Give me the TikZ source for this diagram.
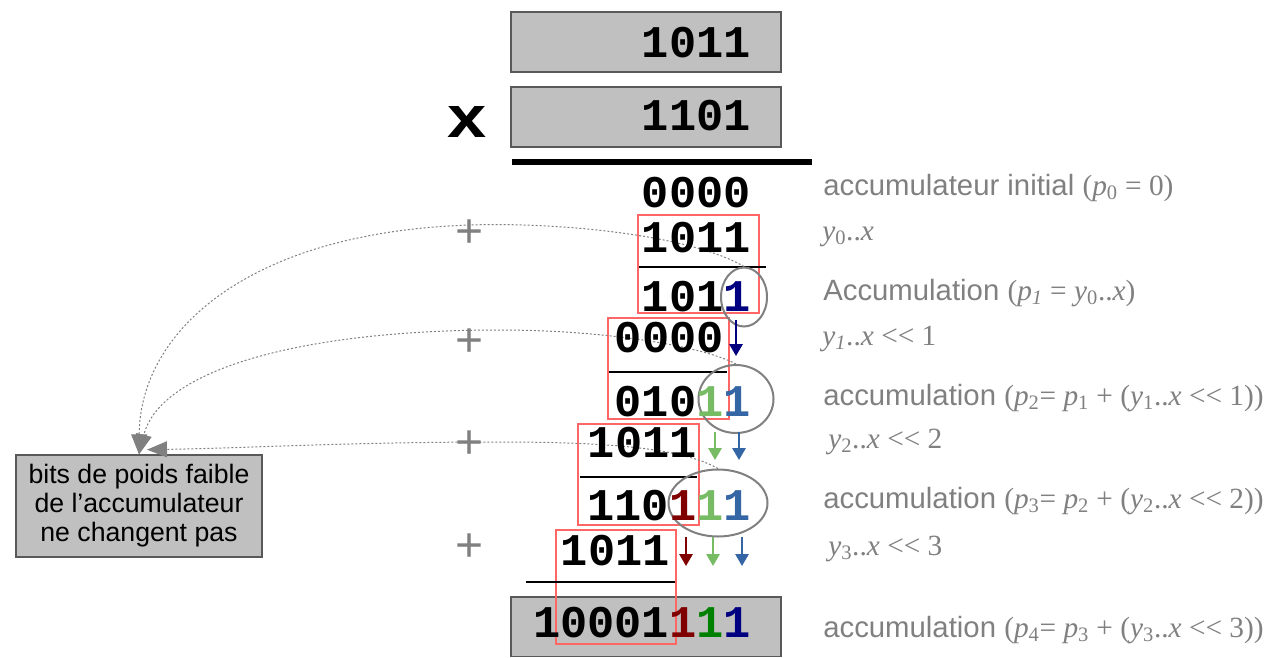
\documentclass[tikz,border=0pt]{standalone}
\usepackage{fontspec}
\setmainfont{Liberation Sans}
\newfontfamily\monofam{Liberation Mono}
\newfontfamily\seriffam{Liberation Serif}
\usetikzlibrary{arrows.meta,shapes.geometric}
\definecolor{redbox}{HTML}{FF6666}
\definecolor{lgreen}{HTML}{77BC65}
\definecolor{sblue}{HTML}{3465A4}
\definecolor{dred}{HTML}{800000}
\definecolor{navyc}{HTML}{000080}
\definecolor{greenc}{HTML}{008000}
\definecolor{boxgray}{HTML}{C0C0C0}
\definecolor{txtgray}{HTML}{808080}
\newcommand\mth[1]{{\seriffam #1}}
\newcommand\iv[1]{\textit{#1}}
\newcommand\sbs[1]{\textsubscript{#1}}
\begin{document}
\begin{tikzpicture}[x=0.75pt,y=-0.75pt,
  digits/.style={anchor=base east, inner sep=0pt, font=\monofam\bfseries\fontsize{34}{40}\selectfont},
  lab/.style={anchor=base west, inner sep=0pt, text=txtgray, font=\fontsize{22}{26}\selectfont},
  grayb/.style={draw=black!65, fill=boxgray, line width=1pt},
  redb/.style={draw=redbox, line width=1.5pt},
  ell/.style={draw=txtgray, line width=1.5pt, ellipse, inner sep=0pt},
  uline/.style={line width=1.6pt},
  dots/.style={draw=txtgray, line width=0.75pt, dash pattern=on 1.5pt off 1.5pt, -{Triangle[length=15pt,width=12pt,fill=txtgray]}},
  carrow/.style={line width=1.5pt, -{Triangle[length=9pt,width=10pt]}},
  plus/.style={text=txtgray, inner sep=0pt, font=\fontsize{36}{40}\selectfont}]
\useasboundingbox (0,0) rectangle (1269,657);

% gray boxes
\path[grayb] (511,12) rectangle (781,72);
\path[grayb] (511,87) rectangle (781,147);
\path[grayb] (511,597) rectangle (781,656.5);
\draw[line width=4pt] (512,162) -- (812,162);

% red boxes
\draw[redb] (638,215) rectangle (759,313);
\draw[redb] (608,318) rectangle (729,419);
\draw[redb] (578,424) rectangle (699,525);
\draw[redb] (556,530) rectangle (676,644);

% underlines
\draw[uline] (639,267) -- (766,267);
\draw[uline] (609,372) -- (727,372);
\draw[uline] (580,477) -- (697,477);
\draw[uline] (526,582) -- (675,582);

% ellipses
\node[ell, minimum width=34.5pt, minimum height=44.25pt] (e1) at (744,297) {};
\node[ell, minimum width=56.25pt, minimum height=51pt] (e2) at (736,399) {};
\node[ell, minimum width=74.25pt, minimum height=50.25pt] (e3) at (718,503) {};

% note box
\node[grayb, minimum width=184.5pt, minimum height=76.5pt, align=center, inner sep=0pt,
      font=\fontsize{20}{21.75}\selectfont] (note) at (139,506)
  {bits de poids faible\\de l’accumulateur\\ne changent pas};

% dotted arrows
\draw[dots] (e1.north) .. controls (690,235) and (560,222) .. (470,225)
  .. controls (250,232) and (140,330) .. (note.north);
\draw[dots] (e2.north) .. controls (700,345) and (600,330) .. (500,330)
  .. controls (300,330) and (160,370) .. (note.north);
\draw[dots] (e3.north) .. controls (680,447) and (600,442) .. (500,442)
  .. controls (350,442) and (250,448) .. ([xshift=6pt,yshift=3.5pt]note.north);

% digits
\node[digits] (t1) at (751,57) {1011};
\node[digits] (t2) at (751,130) {1101};
\node[anchor=base, inner sep=0pt, xscale=1.2, font=\bfseries\fontsize{44}{48}\selectfont] (times) at (467,137) {x};
\node[digits] (r0) at (751,207) {0000};
\node[digits] (r1) at (751,252) {1011};
\node[digits] (r2) at (751,311) {101\textcolor{navyc}{1}};
\node[digits] (r3) at (724,352) {0000};
\node[digits] (r4) at (751,416) {010\textcolor{lgreen}{1}\textcolor{sblue}{1}};
\node[digits] (r5) at (697,457) {1011};
\node[digits] (r6) at (751,520) {110\textcolor{dred}{1}\textcolor{lgreen}{1}\textcolor{sblue}{1}};
\node[digits] (r7) at (670,565) {1011};
\node[digits] (r8) at (751,637) {10001\textcolor{dred}{1}\textcolor{greenc}{1}\textcolor{navyc}{1}};

% colored arrows
\draw[carrow, navyc] (736,320) -- (736,356);
\draw[carrow, lgreen] (715,432) -- (715,460);
\draw[carrow, sblue] (739,432) -- (739,460);
\draw[carrow, dred] (686,537) -- (686,566);
\draw[carrow, lgreen] (713,537) -- (713,566);
\draw[carrow, sblue] (742,537) -- (742,566);

% plus signs
\node[plus] (p1) at (470,234) {+};
\node[plus] (p2) at (470,343) {+};
\node[plus] (p3) at (470,445) {+};
\node[plus] (p4) at (470,548) {+};

% labels
\node[lab] (l0) at (823,195) {accumulateur initial \mth{(\iv{p}\sbs{0} = 0)}};
\node[lab] (l1) at (822,240) {\mth{\iv{y}\sbs{0}..\iv{x}}};
\node[lab] (l2) at (823,300) {Accumulation \mth{(\iv{p}\sbs{\iv{1}} = \iv{y}\sbs{0}..\iv{x})}};
\node[lab] (l3) at (822,345) {\mth{\iv{y}\sbs{\iv{1}}..\iv{x} << 1}};
\node[lab] (l4) at (823,405) {accumulation \mth{(\iv{p}\sbs{2}= \iv{p}\sbs{1} + (\iv{y}\sbs{1}..\iv{x} << 1))}};
\node[lab] (l5) at (828,448) {\mth{\iv{y}\sbs{2}..\iv{x} << 2}};
\node[lab] (l6) at (823,508) {accumulation \mth{(\iv{p}\sbs{3}= \iv{p}\sbs{2} + (\iv{y}\sbs{2}..\iv{x} << 2))}};
\node[lab] (l7) at (828,555) {\mth{\iv{y}\sbs{3}..\iv{x} << 3}};
\node[lab] (l8) at (823,637) {accumulation \mth{(\iv{p}\sbs{4}= \iv{p}\sbs{3} + (\iv{y}\sbs{3}..\iv{x} << 3))}};
\end{tikzpicture}
\end{document}
